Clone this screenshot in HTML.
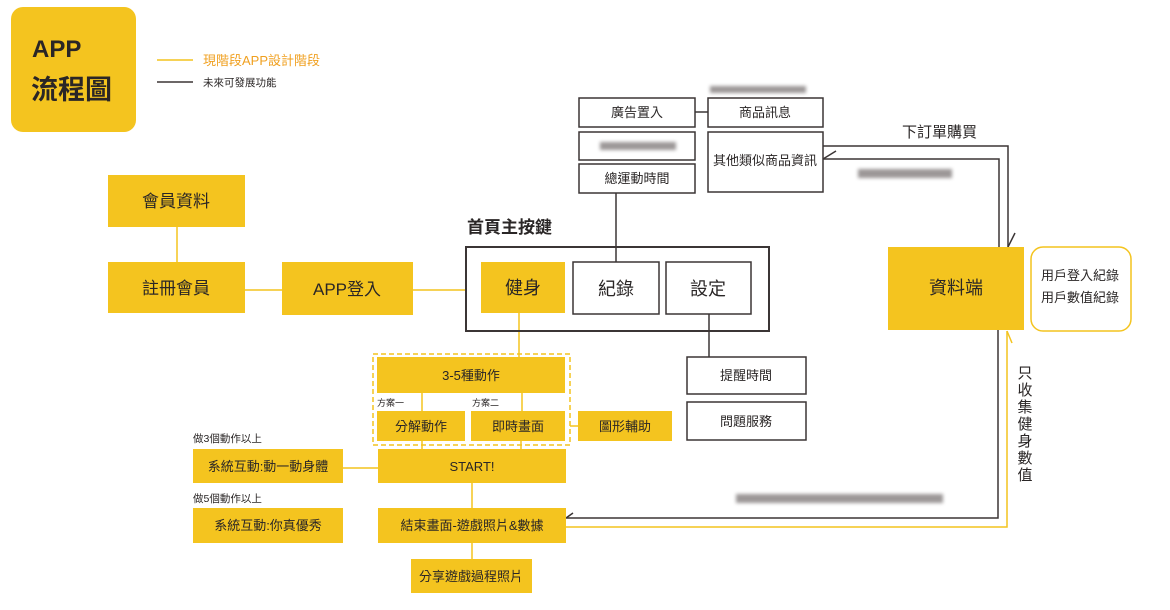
<!DOCTYPE html>
<html><head><meta charset="utf-8">
<style>
html,body{margin:0;padding:0;background:#fff;}
body{width:1170px;height:610px;overflow:hidden;}
svg{display:block;}
text{font-family:"Liberation Sans","Noto Sans CJK TC",sans-serif;fill:#2a2626;}
</style></head><body>
<svg width="1170" height="610" viewBox="0 0 1170 610" xmlns="http://www.w3.org/2000/svg">
<defs>
<filter id="bl" x="-20%" y="-100%" width="140%" height="300%"><feGaussianBlur stdDeviation="1.8"/></filter>
</defs>
<!-- logo -->
<rect x="11" y="7" width="125" height="125" rx="12" fill="#f4c41f"/>
<text x="32" y="57" font-size="24" font-weight="bold">APP</text>
<text x="31" y="99" font-size="27" font-weight="bold">流程圖</text>
<!-- legend -->
<line x1="157" y1="60" x2="193" y2="60" stroke="#f4c41f" stroke-width="1.5"/>
<text x="203" y="65" font-size="13" style="fill:#f0a020">現階段APP設計階段</text>
<line x1="157" y1="82" x2="193" y2="82" stroke="#3b3535" stroke-width="1.5"/>
<text x="203" y="86" font-size="10.5">未來可發展功能</text>

<!-- yellow connector lines -->
<g stroke="#f4c41f" stroke-width="1.5" fill="none">
<line x1="177" y1="227" x2="177" y2="262"/>
<line x1="245" y1="290" x2="282" y2="290"/>
<line x1="413" y1="290" x2="466" y2="290"/>
<line x1="519" y1="313" x2="519" y2="357"/>
<line x1="422" y1="393" x2="422" y2="411"/>
<line x1="522" y1="393" x2="522" y2="411"/>
<line x1="422" y1="441" x2="422" y2="449"/>
<line x1="521" y1="441" x2="521" y2="449"/>
<line x1="570" y1="426" x2="578" y2="426"/>
<line x1="343" y1="468" x2="378" y2="468"/>
<line x1="472" y1="483" x2="472" y2="508"/>
<line x1="472" y1="543" x2="472" y2="559"/>
<polyline points="566,527 1007,527 1007,331"/>
<line x1="1007" y1="331" x2="1012" y2="343"/>
<rect x="373" y="354" width="197" height="91" stroke-dasharray="5,3"/>
</g>

<!-- dark connector lines -->
<g stroke="#3b3535" stroke-width="1.5" fill="none">
<line x1="616" y1="193" x2="616" y2="262"/>
<line x1="709" y1="314" x2="709" y2="357"/>
<line x1="695" y1="112" x2="708" y2="112"/>
<polyline points="823,146 1008,146 1008,247"/>
<line x1="1008" y1="247" x2="1015" y2="233"/>
<polyline points="999,247 999,159 823,159"/>
<line x1="823" y1="159" x2="836" y2="151"/>
<polyline points="998,330 998,518 566,518"/>
<line x1="566" y1="518" x2="573" y2="513"/>
</g>

<!-- main box -->
<rect x="466" y="247" width="303" height="84" fill="none" stroke="#3b3535" stroke-width="2"/>
<text x="467" y="233" font-size="17" font-weight="bold">首頁主按鍵</text>

<!-- yellow boxes -->
<g fill="#f4c41f">
<rect x="108" y="175" width="137" height="52"/>
<rect x="108" y="262" width="137" height="51"/>
<rect x="282" y="262" width="131" height="53"/>
<rect x="481" y="262" width="84" height="51"/>
<rect x="377" y="357" width="188" height="36"/>
<rect x="377" y="411" width="88" height="30"/>
<rect x="471" y="411" width="94" height="30"/>
<rect x="578" y="411" width="94" height="30"/>
<rect x="193" y="449" width="150" height="34"/>
<rect x="378" y="449" width="188" height="34"/>
<rect x="193" y="508" width="150" height="35"/>
<rect x="378" y="508" width="188" height="35"/>
<rect x="411" y="559" width="121" height="34"/>
<rect x="888" y="247" width="136" height="83"/>
</g>

<!-- white boxes -->
<g fill="#fff" stroke="#3b3535" stroke-width="1.5">
<rect x="573" y="262" width="86" height="52"/>
<rect x="666" y="262" width="85" height="52"/>
<rect x="579" y="98" width="116" height="29"/>
<rect x="579" y="132" width="116" height="28"/>
<rect x="579" y="164" width="116" height="29"/>
<rect x="708" y="98" width="115" height="29"/>
<rect x="708" y="132" width="115" height="60"/>
<rect x="687" y="357" width="119" height="37"/>
<rect x="687" y="402" width="119" height="38"/>
</g>
<rect x="1031" y="247" width="100" height="84" rx="12" fill="#fff" stroke="#f4c41f" stroke-width="1.5"/>

<!-- box labels -->
<g text-anchor="middle">
<text x="176" y="207" font-size="17">會員資料</text>
<text x="176" y="294" font-size="17">註冊會員</text>
<text x="347" y="295" font-size="17">APP登入</text>
<text x="523" y="294" font-size="18">健身</text>
<text x="616" y="295" font-size="18">紀錄</text>
<text x="708" y="295" font-size="18">設定</text>
<text x="471" y="380" font-size="13">3-5種動作</text>
<text x="421" y="431" font-size="13">分解動作</text>
<text x="518" y="431" font-size="13">即時畫面</text>
<text x="625" y="431" font-size="13">圖形輔助</text>
<text x="268" y="471" font-size="13">系統互動:動一動身體</text>
<text x="472" y="471" font-size="13">START!</text>
<text x="268" y="530" font-size="13">系統互動:你真優秀</text>
<text x="472" y="530" font-size="13">結束畫面-遊戲照片&amp;數據</text>
<text x="471" y="581" font-size="13">分享遊戲過程照片</text>
<text x="956" y="294" font-size="18">資料端</text>
<text x="637" y="117" font-size="13">廣告置入</text>
<text x="637" y="183" font-size="13">總運動時間</text>
<text x="765" y="117" font-size="13">商品訊息</text>
<text x="765" y="165" font-size="13">其他類似商品資訊</text>
<text x="746" y="380" font-size="13">提醒時間</text>
<text x="746" y="426" font-size="13">問題服務</text>
</g>

<!-- small labels -->
<text x="377" y="406" font-size="9">方案一</text>
<text x="472" y="406" font-size="9">方案二</text>
<text x="193" y="442" font-size="10.5">做3個動作以上</text>
<text x="193" y="502" font-size="10.5">做5個動作以上</text>
<text x="1041" y="280" font-size="13">用戶登入紀錄</text>
<text x="1041" y="302" font-size="13">用戶數值紀錄</text>
<text x="902" y="137" font-size="15">下訂單購買</text>
<g text-anchor="middle" font-size="15">
<text x="1025" y="378">只</text>
<text x="1025" y="395">收</text>
<text x="1025" y="412">集</text>
<text x="1025" y="429">健</text>
<text x="1025" y="446">身</text>
<text x="1025" y="463">數</text>
<text x="1025" y="480">值</text>
</g>

<!-- blurred placeholders -->
<g fill="#7a7474" filter="url(#bl)" opacity="0.75">
<rect x="710" y="86" width="96" height="7"/>
<rect x="600" y="142" width="76" height="8"/>
<rect x="858" y="169" width="94" height="9"/>
<rect x="736" y="494" width="207" height="9"/>
</g>
</svg>
</body></html>
